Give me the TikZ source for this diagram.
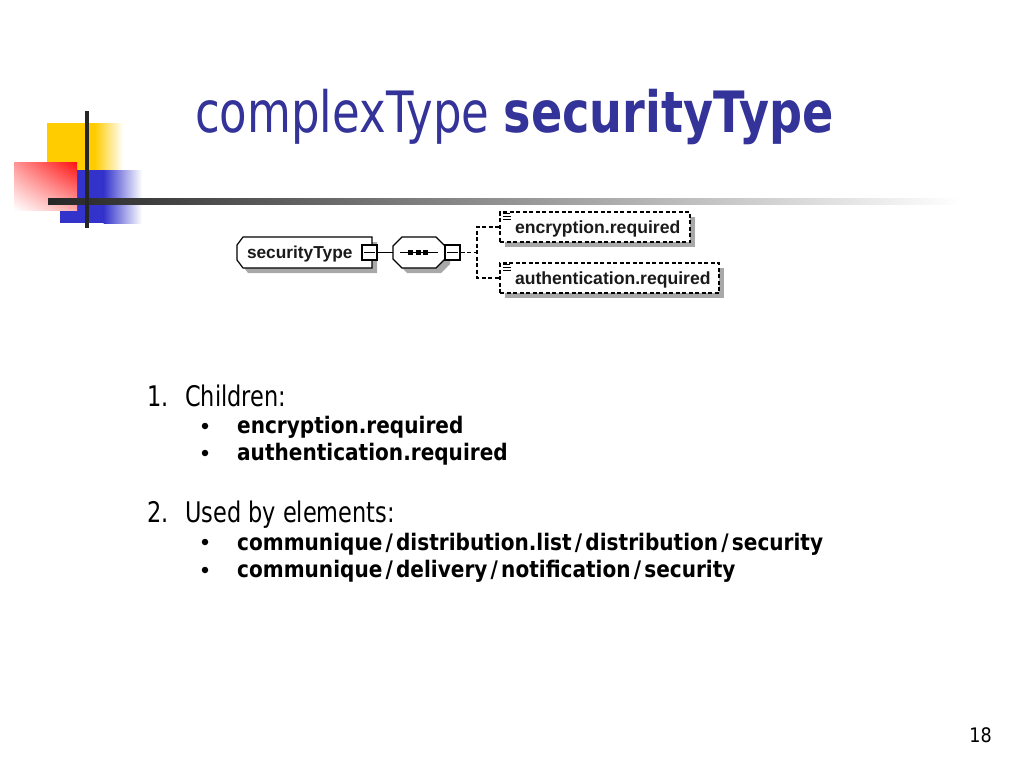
\documentclass[tikz,border=0pt]{standalone}
\usepackage{fontspec}
\setmainfont{Liberation Sans}
\newfontfamily\tahR[FakeStretch=0.79]{DejaVu Sans}
\newfontfamily\tahB[FakeStretch=0.88]{DejaVu Sans}
\newfontfamily\tahT[FakeStretch=0.81]{DejaVu Sans}
\newfontfamily\ari{Liberation Sans}
\newcommand\slsh{\hspace{3.2pt}/\hspace{3.2pt}}
\usetikzlibrary{shadows,shadings}
\definecolor{titleblue}{HTML}{333399}
\definecolor{logoyellow}{HTML}{FFCC00}
\definecolor{logoblue}{HTML}{3333CC}
\definecolor{logored}{HTML}{FF1010}
\definecolor{shadowgray}{HTML}{A8A8A8}
\definecolor{bardark}{HTML}{262626}
\definecolor{xtext}{HTML}{1A1A1A}
\begin{document}
\begin{tikzpicture}[x=1pt,y=-1pt,
  lvla/.style={anchor=base west, inner sep=0pt, font=\tahR\fontsize{28.4}{30}\selectfont},
  lvlb/.style={anchor=base west, inner sep=0pt, font=\tahB\bfseries\fontsize{22.8}{24}\selectfont},
  bul/.style={circle, fill=black, inner sep=0pt, minimum size=6.5pt},
  xline/.style={line width=1.2pt, black},
  dashline/.style={dash pattern=on 4pt off 2.5pt},
  minusbox/.style={draw, line width=1.2pt, fill=white, minimum size=15pt, inner sep=0pt},
  childbox/.style={draw, line width=1.2pt, dashline, fill=white, minimum height=30pt,
     inner xsep=10pt, inner ysep=0pt, align=left, text=xtext, text height=15pt, text depth=3pt,
     font=\ari\bfseries\fontsize{17.6}{20}\selectfont,
     drop shadow={shadow xshift=5pt, shadow yshift=-5pt, fill=shadowgray, opacity=1}},
  typebox/.style={draw=none, minimum height=31pt, inner xsep=10pt, inner ysep=0pt,
     align=left, text=xtext, text height=14pt, text depth=3pt, font=\ari\bfseries\fontsize{17.3}{20}\selectfont}
]
\useasboundingbox (0,0) rectangle (1024,768);
\fill[white] (0,0) rectangle (1024,768);

% logo
\fill[logoyellow] (47,123) rectangle (95,170);
\shade[left color=logoyellow, right color=white] (94.5,123) rectangle (123,170);
\fill[logoblue] (60,170) rectangle (104,223);
\shade[left color=logoblue, right color=white] (103.5,170) rectangle (142,223);
\shade[upper left=logored!45!white, upper right=logored, lower left=white, lower right=logored!35!white] (14,162) rectangle (77,210);
\shade[left color=bardark, right color=white] (48,198) rectangle (960,204);
\draw[line width=4pt, color=bardark] (87,111) -- (87,228);

% title
\node[anchor=base west, inner sep=0pt, text=titleblue, font=\fontsize{57}{60}\selectfont] (title) at (195,132) {\tahR complexType \tahT\bfseries securityType};

% diagram: securityType
\fill[shadowgray] (248,242) -- (377,242) -- (377,273) -- (248,273) -- (242,265) -- (242,250) -- cycle;
\draw[xline, fill=white] (243,237) -- (372,237) -- (372,268) -- (243,268) -- (237,260) -- (237,245) -- cycle;
\node[typebox, text width=115pt] (st) at (304.5,252.5) {\rlap{securityType}};
\node[minusbox] (m1) at (369.5,252.5) {};
\draw[xline] ([xshift=3pt]m1.west) -- ([xshift=-3pt]m1.east);

% sequence
\fill[shadowgray] (407,242) -- (441,242) -- (450,251) -- (450,264) -- (441,273) -- (407,273) -- (398,264) -- (398,251) -- cycle;
\draw[xline, fill=white] (402,237) -- (436,237) -- (445,246) -- (445,259) -- (436,268) -- (402,268) -- (393,259) -- (393,246) -- cycle;
\node[draw=none, minimum width=52pt, minimum height=31pt, inner sep=0pt] (seq) at (419,252.5) {};
\draw[xline] (400,252.5) -- (438,252.5);
\fill (408,250) rectangle (413,255);
\fill (415.5,250) rectangle (420.5,255);
\fill (423,250) rectangle (428,255);
\node[minusbox] (m2) at (452.5,252.5) {};
\draw[xline] ([xshift=3pt]m2.west) -- ([xshift=-3pt]m2.east);

\draw[xline] (m1.east) -- (seq.west);

% children
\node[childbox, text width=170pt] (c1) at (595,227) {\hspace*{5pt}\rlap{encryption.required}};
\node[childbox, text width=199pt] (c2) at (609.5,278) {\hspace*{5pt}\rlap{authentication.required}};
\foreach \n in {c1,c2}{
  \draw[line width=0.9pt] ([shift={(4,2.5)}]\n.north west) -- ++(7,0);
  \draw[line width=0.9pt] ([shift={(4,5.5)}]\n.north west) -- ++(8,0);
  \draw[line width=0.9pt] ([shift={(4,8.5)}]\n.north west) -- ++(8,0);
}
\coordinate (br) at (477,252.5);
\draw[xline, dashline] (m2.east) -- (br);
\draw[xline, dashline] (c1.west) -| (br) |- (c2.west);

% list
\node[lvla] (n1) at (147,406) {1.};
\node[lvla] (h1) at (185,406) {Children:};
\node[bul] (b1) at (205,426) {};
\node[lvlb] (e1) at (237,433) {encryption.required};
\node[bul] (b2) at (205,453) {};
\node[lvlb] (e2) at (237,460) {authentication.required};
\node[lvla] (n2) at (147,522) {2.};
\node[lvla] (h2) at (185,522) {Used by elements:};
\node[bul] (b3) at (205,542) {};
\node[lvlb] (u1) at (237,550) {communique\slsh distribution.list\slsh distribution\slsh security};
\node[bul] (b4) at (205,570) {};
\node[lvlb] (u2) at (237,577) {communique\slsh delivery\slsh notification\slsh security};

% page number
\node[anchor=base east, inner sep=0pt, font=\tahB\fontsize{20}{22}\selectfont] (pg) at (992,742) {18};
\end{tikzpicture}
\end{document}
